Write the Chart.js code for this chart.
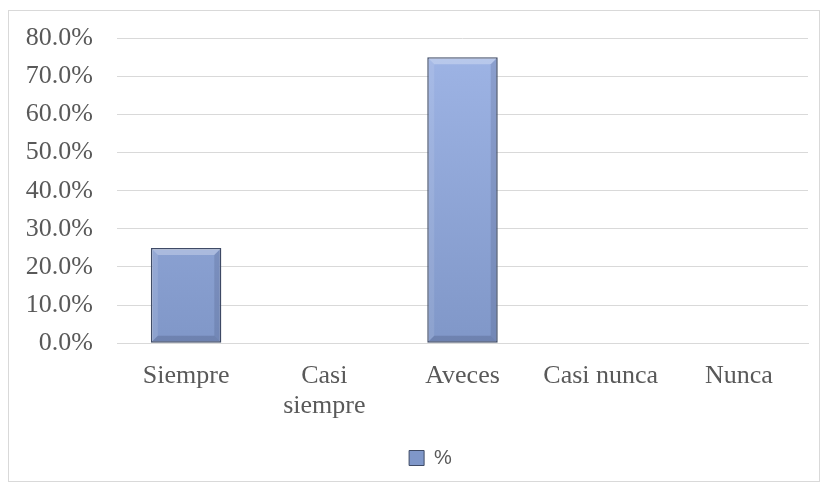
<!DOCTYPE html>
<html><head><meta charset="utf-8">
<script src="https://cdn.jsdelivr.net/npm/chart.js@4/dist/chart.umd.min.js"></script>
<style>
html,body{margin:0;padding:0;background:#fff;}
#box{position:absolute;left:8px;top:10px;width:810px;height:470px;border:1px solid #d9d9d9;}
canvas{display:block;}
</style></head><body>
<div id="box"><canvas id="c" width="810" height="470"></canvas></div>
<script>
const categories = ["Siempre", ["Casi", "siempre"], "Aveces", "Casi nunca", "Nunca"];
const values = [25, 0, 75, 0, 0];
const seriesName = "%";

const ctx = document.getElementById('c').getContext('2d');
function barGrad(context){
  const chart = context.chart;
  const a = chart.chartArea;
  if(!a) return '#8fa8dc';
  const g = chart.ctx.createLinearGradient(0, a.top, 0, a.bottom);
  g.addColorStop(0, '#9fb5e6');
  g.addColorStop(1, '#8097c8');
  return g;
}
const bevel = {
  id:'bevel',
  afterLayout(chart){
    const l = chart.legend;
    if(l){ l.left += 14; l.right += 14; l.top += 7; l.bottom += 7; }
  },
  afterDatasetsDraw(chart){
    const meta = chart.getDatasetMeta(0);
    const c = chart.ctx;
    meta.data.forEach((b,i)=>{
      if(!values[i]) return;
      const x0=b.x-b.width/2, x1=b.x+b.width/2, y0=b.y, y1=b.base;
      const d=7;
      c.save();
      c.fillStyle='rgba(255,255,255,0.28)';
      c.beginPath();c.moveTo(x0+1,y0+1);c.lineTo(x1-1,y0+1);c.lineTo(x1-d,y0+d);c.lineTo(x0+d,y0+d);c.closePath();c.fill();
      c.fillStyle='rgba(255,255,255,0.10)';
      c.beginPath();c.moveTo(x0+1,y0+1);c.lineTo(x0+d,y0+d);c.lineTo(x0+d,y1-d);c.lineTo(x0+1,y1-1);c.closePath();c.fill();
      c.fillStyle='rgba(40,50,80,0.15)';
      c.beginPath();c.moveTo(x1-1,y0+1);c.lineTo(x1-1,y1-1);c.lineTo(x1-d,y1-d);c.lineTo(x1-d,y0+d);c.closePath();c.fill();
      c.fillStyle='rgba(40,50,80,0.20)';
      c.beginPath();c.moveTo(x0+1,y1-1);c.lineTo(x1-1,y1-1);c.lineTo(x1-d,y1-d);c.lineTo(x0+d,y1-d);c.closePath();c.fill();
      c.restore();
    });
  }
};
new Chart(ctx, {
  type:'bar',
  data:{labels:categories, datasets:[{label:seriesName, data:values,
    backgroundColor:barGrad, borderColor:'#3f4b66', borderWidth:1.5, borderSkipped:false,
    categoryPercentage:0.51, barPercentage:1}]},
  options:{
    responsive:false, animation:false,
    layout:{padding:{left:16,right:11,top:2,bottom:10}},
    plugins:{
      legend:{position:'bottom', labels:{font:{family:'Liberation Sans', size:20}, color:'#595959', boxWidth:15, boxHeight:15, padding:10,
        generateLabels(chart){return [{text:seriesName, fillStyle:'#7f97c9', strokeStyle:'#3f4b66', lineWidth:1, datasetIndex:0, fontColor:'#595959'}];}}},
      tooltip:{enabled:false}
    },
    scales:{
      y:{min:0,max:80,
        afterFit(s){ s.width = 92; },
        ticks:{stepSize:10, callback:v=>v.toFixed(1)+'%', font:{family:'Liberation Serif', size:26, lineHeight:0.25}, color:'#595959', padding:24},
        grid:{color:'#d9d9d9', drawTicks:false}, border:{display:false}},
      x:{ticks:{font:{family:'Liberation Serif', size:26, lineHeight:1.15}, color:'#595959', padding:10, maxRotation:0},
        grid:{display:false}, border:{color:'#d9d9d9'}}
    }
  },
  plugins:[bevel]
});
</script></body></html>
